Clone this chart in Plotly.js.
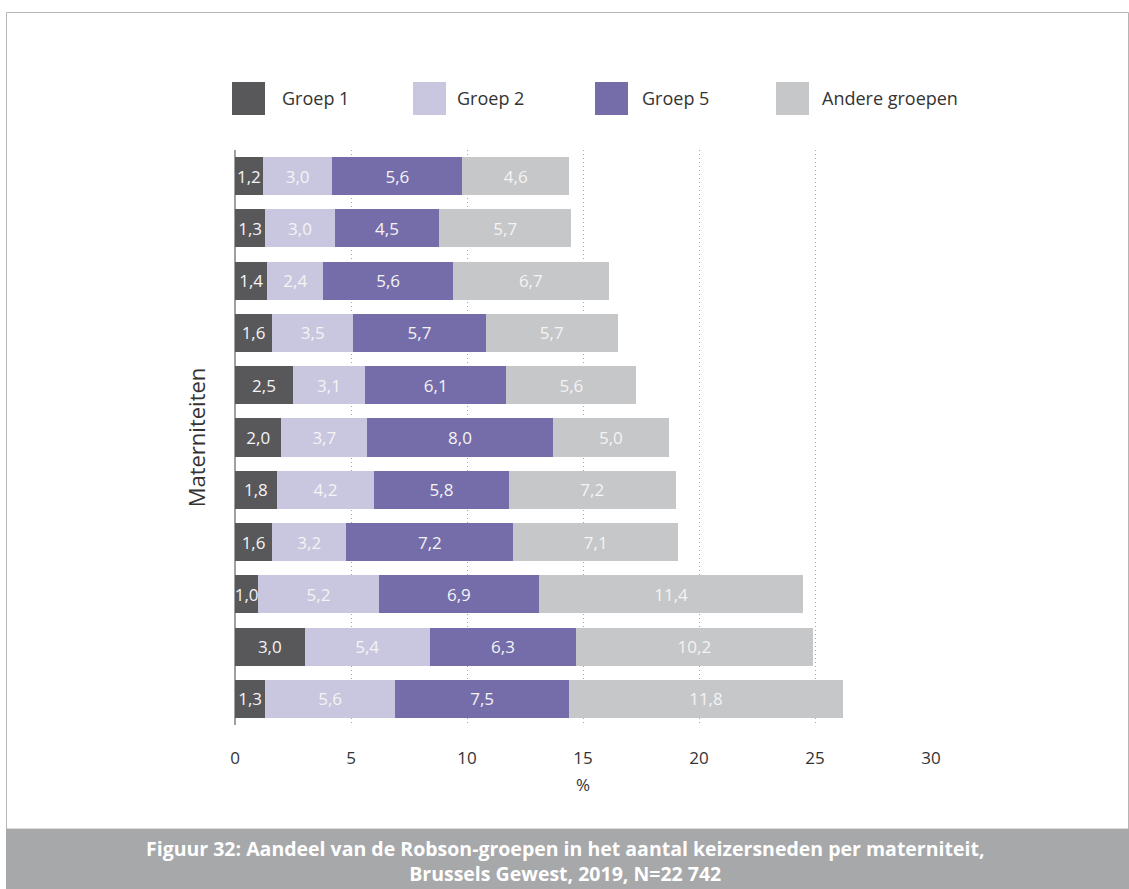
<!DOCTYPE html>
<html>
<head>
<meta charset="utf-8">
<script src="https://cdn.plot.ly/plotly-3.0.1.min.js"></script>
<style>
html,body{margin:0;padding:0;background:#fff;}
#chart{width:1129px;height:889px;}
</style>
</head>
<body>
<div id="chart"></div>
<script>
// Data (top to bottom)
var maternities = ["M1","M2","M3","M4","M5","M6","M7","M8","M9","M10","M11"];
var groep1 = [1.2, 1.3, 1.4, 1.6, 2.5, 2.0, 1.8, 1.6, 1.0, 3.0, 1.3];
var groep2 = [3.0, 3.0, 2.4, 3.5, 3.1, 3.7, 4.2, 3.2, 5.2, 5.4, 5.6];
var groep5 = [5.6, 4.5, 5.6, 5.7, 6.1, 8.0, 5.8, 7.2, 6.9, 6.3, 7.5];
var andere = [4.6, 5.7, 6.7, 5.7, 5.6, 5.0, 7.2, 7.1, 11.4, 10.2, 11.8];
var seriesNames = ["Groep 1", "Groep 2", "Groep 5", "Andere groepen"];
var xTicks = [0, 5, 10, 15, 20, 25, 30];

var colors = ["#58585b", "#c9c7df", "#746daa", "#c6c7c8"];
var allSeries = [groep1, groep2, groep5, andere];
var FONT = "Open Sans, Noto Sans, sans-serif";

var traces = allSeries.map(function (vals, i) {
  return {
    type: "bar",
    orientation: "h",
    name: seriesNames[i],
    y: maternities,
    x: vals,
    marker: {color: colors[i], line: {width: 0}},
    texttemplate: "%{x:.1f}",
    textposition: "inside",
    insidetextanchor: "middle",
    textangle: 0,
    constraintext: "none",
    cliponaxis: false,
    textfont: {family: FONT, size: 17, color: "#f4f4f4"},
    hoverinfo: "skip",
    showlegend: false
  };
});

// plot area geometry in px
var W = 1129, H = 889;
var L = 235, R = 931, T = 150, B = 725;
function px(x) { return (x - L) / (R - L); }
function py(y) { return (B - y) / (B - T); }

var shapes = [
  // outer border
  {type: "rect", xref: "paper", yref: "paper", x0: px(6.5), x1: px(1128.5), y0: py(829), y1: py(12.5),
   line: {color: "#b5b5b5", width: 1}, fillcolor: "rgba(0,0,0,0)", layer: "below"},
  // caption box
  {type: "rect", xref: "paper", yref: "paper", x0: px(6), x1: px(1129), y0: py(889), y1: py(829),
   line: {width: 0}, fillcolor: "#a7a8aa", layer: "below"}
];
var annotations = [];

// custom legend
var legX = [232, 413, 595, 776];
var legTextX = [280, 455, 640, 820];
for (var i = 0; i < 4; i++) {
  shapes.push({type: "rect", xref: "paper", yref: "paper",
    x0: px(legX[i]), x1: px(legX[i] + 33), y0: py(115), y1: py(82),
    line: {width: 0}, fillcolor: colors[i]});
  annotations.push({xref: "paper", yref: "paper", x: px(legTextX[i]), y: py(98.5),
    xanchor: "left", yanchor: "middle", showarrow: false, text: seriesNames[i],
    font: {family: FONT, size: 18, color: "#333333"}});
}

// caption
annotations.push({xref: "paper", yref: "paper", x: px(565), y: py(861), xanchor: "center", yanchor: "middle",
  showarrow: false, align: "center",
  text: "<b>Figuur 32: Aandeel van de Robson-groepen in het aantal keizersneden per materniteit,</b><br><b>Brussels Gewest, 2019, N=22 742</b>",
  font: {family: FONT, size: 19.5, color: "#ffffff"}});

var layout = {
  width: W, height: H,
  margin: {l: L, r: W - R, t: T, b: H - B, pad: 0},
  paper_bgcolor: "#ffffff",
  plot_bgcolor: "#ffffff",
  barmode: "stack",
  bargap: 0.27,
  separators: ", ",
  font: {family: FONT, color: "#333333"},
  showlegend: false,
  xaxis: {
    range: [0, 30],
    tickvals: xTicks,
    ticktext: xTicks.map(String),
    showgrid: true,
    gridcolor: "#a8a8a8",
    griddash: "1px,3px",
    gridwidth: 1,
    zeroline: true,
    zerolinecolor: "#a0a0a0",
    zerolinewidth: 1.5,
    showline: false,
    ticks: "",
    ticklabelstandoff: 21,
    tickfont: {family: FONT, size: 17, color: "#333333"},
    title: {text: "%", standoff: 11, font: {family: FONT, size: 17, color: "#333333"}},
    fixedrange: true
  },
  yaxis: {
    type: "category",
    categoryorder: "array",
    categoryarray: maternities,
    autorange: "reversed",
    showticklabels: false,
    showgrid: false,
    zeroline: false,
    showline: false,
    ticks: "",
    title: {text: "Materniteiten", standoff: 22, font: {family: FONT, size: 22, color: "#333333"}},
    fixedrange: true
  },
  shapes: shapes,
  annotations: annotations
};

Plotly.newPlot("chart", traces, layout, {displayModeBar: false, staticPlot: true});
</script>
</body>
</html>
